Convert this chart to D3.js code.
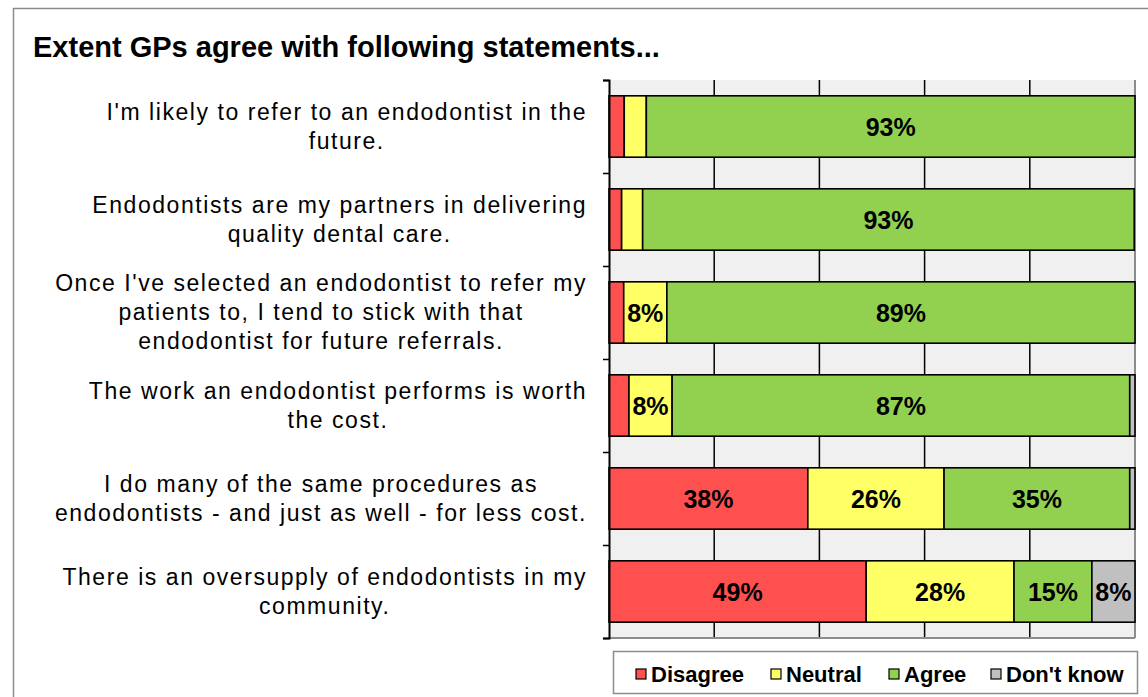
<!DOCTYPE html>
<html>
<head>
<meta charset="utf-8">
<script src="https://cdn.jsdelivr.net/npm/d3@7"></script>
<style>
  html, body { margin: 0; padding: 0; background: #fff; }
  svg { display: block; }
  text { font-family: "Liberation Sans", Arial, sans-serif; }
</style>
</head>
<body>
<svg id="chart" width="1148" height="697"></svg>
<script>
// ---- Data ----
const title = "Extent GPs agree with following statements...";
const categories = [
  "I'm likely to refer to an endodontist in the future.",
  "Endodontists are my partners in delivering quality dental care.",
  "Once I've selected an endodontist to refer my patients to, I tend to stick with that endodontist for future referrals.",
  "The work an endodontist performs is worth the cost.",
  "I do many of the same procedures as endodontists - and just as well - for less cost.",
  "There is an oversupply of endodontists in my community."
];
const categoryLines = [
  ["I'm likely to refer to an endodontist in the", "future."],
  ["Endodontists are my partners in delivering", "quality dental care."],
  ["Once I've selected an endodontist to refer my", "patients to, I tend to stick with that", "endodontist for future referrals."],
  ["The work an endodontist performs is worth", "the cost."],
  ["I do many of the same procedures as", "endodontists - and just as well - for less cost."],
  ["There is an oversupply of endodontists in my", "community."]
];
const seriesNames = ["Disagree", "Neutral", "Agree", "Don't know"];
const disagree = [0.029, 0.024, 0.028, 0.038, 0.378, 0.489];
const neutral  = [0.042, 0.040, 0.082, 0.082, 0.259, 0.281];
const agree    = [0.929, 0.9345, 0.890, 0.870, 0.353, 0.148];
const dontKnow = [0.000, 0.000, 0.000, 0.010, 0.010, 0.082];
const xTicks = [0, 0.2, 0.4, 0.6, 0.8, 1.0];
const colors = ["#FF5050", "#FFFF66", "#92D050", "#C0C0C0"];

// ---- Layout ----
const svg = d3.select("#chart");
const plot = { left: 609, right: 1135, top: 80, bottom: 638 };

const table = categories.map((c, i) => ({
  cat: c, Disagree: disagree[i], Neutral: neutral[i], Agree: agree[i], "Don't know": dontKnow[i]
}));
const stacked = d3.stack().keys(seriesNames)(table);

const x = d3.scaleLinear().domain([0, 1]).range([plot.left, plot.right]);
const y = d3.scaleBand().domain(categories).range([plot.top, plot.bottom])
  .paddingInner(0.34).paddingOuter(0.17);
const color = d3.scaleOrdinal().domain(seriesNames).range(colors);

// Outer border
svg.append("rect").attr("x", 13.5).attr("y", 8.5).attr("width", 1160).attr("height", 720)
  .attr("fill", "none").attr("stroke", "#8c8c8c").attr("stroke-width", 1.5);

// Title
svg.append("text").attr("x", 33).attr("y", 57)
  .attr("font-size", 29).attr("font-weight", "bold").attr("fill", "#000")
  .text(title);

// Plot background
svg.append("rect").attr("x", plot.left).attr("y", plot.top)
  .attr("width", plot.right - plot.left).attr("height", plot.bottom - plot.top)
  .attr("fill", "#F0F0F0");

// Vertical gridlines
svg.append("g").selectAll("line").data(xTicks.filter(t => t > 0 && t < 1)).join("line")
  .attr("x1", d => x(d)).attr("x2", d => x(d))
  .attr("y1", plot.top).attr("y2", plot.bottom)
  .attr("stroke", "#000").attr("stroke-width", 1.5);

// Plot border right & bottom
svg.append("line").attr("x1", plot.right).attr("x2", plot.right).attr("y1", plot.top).attr("y2", plot.bottom)
  .attr("stroke", "#8c8c8c").attr("stroke-width", 2);
svg.append("line").attr("x1", plot.left).attr("x2", plot.right).attr("y1", plot.bottom).attr("y2", plot.bottom)
  .attr("stroke", "#8c8c8c").attr("stroke-width", 2);

// Bars
const layers = svg.append("g").selectAll("g").data(stacked).join("g")
  .attr("fill", d => color(d.key));
layers.selectAll("rect").data(d => d.filter(s => s[1] - s[0] > 0)).join("rect")
  .attr("x", d => x(d[0]))
  .attr("y", d => y(d.data.cat))
  .attr("width", d => x(d[1]) - x(d[0]))
  .attr("height", y.bandwidth())
  .attr("stroke", "#000").attr("stroke-width", 1.6);

// Bar labels
const fmt = d3.format(".0%");
svg.append("g").selectAll("g").data(stacked).join("g")
  .selectAll("text").data(d => d.filter(s => s[1] - s[0] >= 0.075)).join("text")
  .attr("x", d => (x(d[0]) + x(d[1])) / 2)
  .attr("y", d => y(d.data.cat) + y.bandwidth() / 2)
  .attr("dy", "0.36em")
  .attr("text-anchor", "middle")
  .attr("font-size", 25).attr("font-weight", "bold").attr("fill", "#000")
  .text(d => fmt(d[1] - d[0]));

// Left axis with ticks at category boundaries
const yEdges = d3.scaleLinear().domain([0, categories.length]).range([plot.top, plot.bottom]);
svg.append("g").attr("transform", `translate(${plot.left},0)`)
  .call(d3.axisLeft(yEdges).ticks(categories.length).tickFormat("").tickSize(6).tickSizeOuter(6))
  .call(g => g.selectAll("line").attr("stroke", "#000").attr("stroke-width", 1.5))
  .call(g => g.select(".domain").attr("stroke", "#000").attr("stroke-width", 2));

// Category labels (centered lines, block right-aligned)
const labelRight = 587;
const lineH = 29;
const lab = svg.append("g");
categories.forEach((c, i) => {
  const lines = categoryLines[i];
  const cy = y(c) + y.bandwidth() / 2;
  const g = lab.append("g");
  const texts = lines.map((ln, j) => g.append("text")
    .attr("y", cy + (j - (lines.length - 1) / 2) * lineH)
    .attr("dy", "0.33em")
    .attr("text-anchor", "middle")
    .attr("font-size", 23).attr("letter-spacing", 1.55).attr("fill", "#000")
    .text(ln));
  const maxW = d3.max(texts, t => t.node().getComputedTextLength());
  texts.forEach(t => t.attr("x", labelRight - maxW / 2));
});

// Legend
const leg = svg.append("g");
leg.append("rect").attr("x", 613.5).attr("y", 651.5).attr("width", 524).attr("height", 42)
  .attr("fill", "#fff").attr("stroke", "#8c8c8c").attr("stroke-width", 1.5);
const legX = [636, 771, 889, 991];
seriesNames.forEach((s, i) => {
  leg.append("rect").attr("x", legX[i]).attr("y", 669).attr("width", 10).attr("height", 10)
    .attr("fill", color(s)).attr("stroke", "#000").attr("stroke-width", 1.2);
  leg.append("text").attr("x", legX[i] + 15).attr("y", 674).attr("dy", "0.36em")
    .attr("font-size", 22).attr("font-weight", "bold").attr("fill", "#000").text(s);
});
</script>
</body>
</html>
